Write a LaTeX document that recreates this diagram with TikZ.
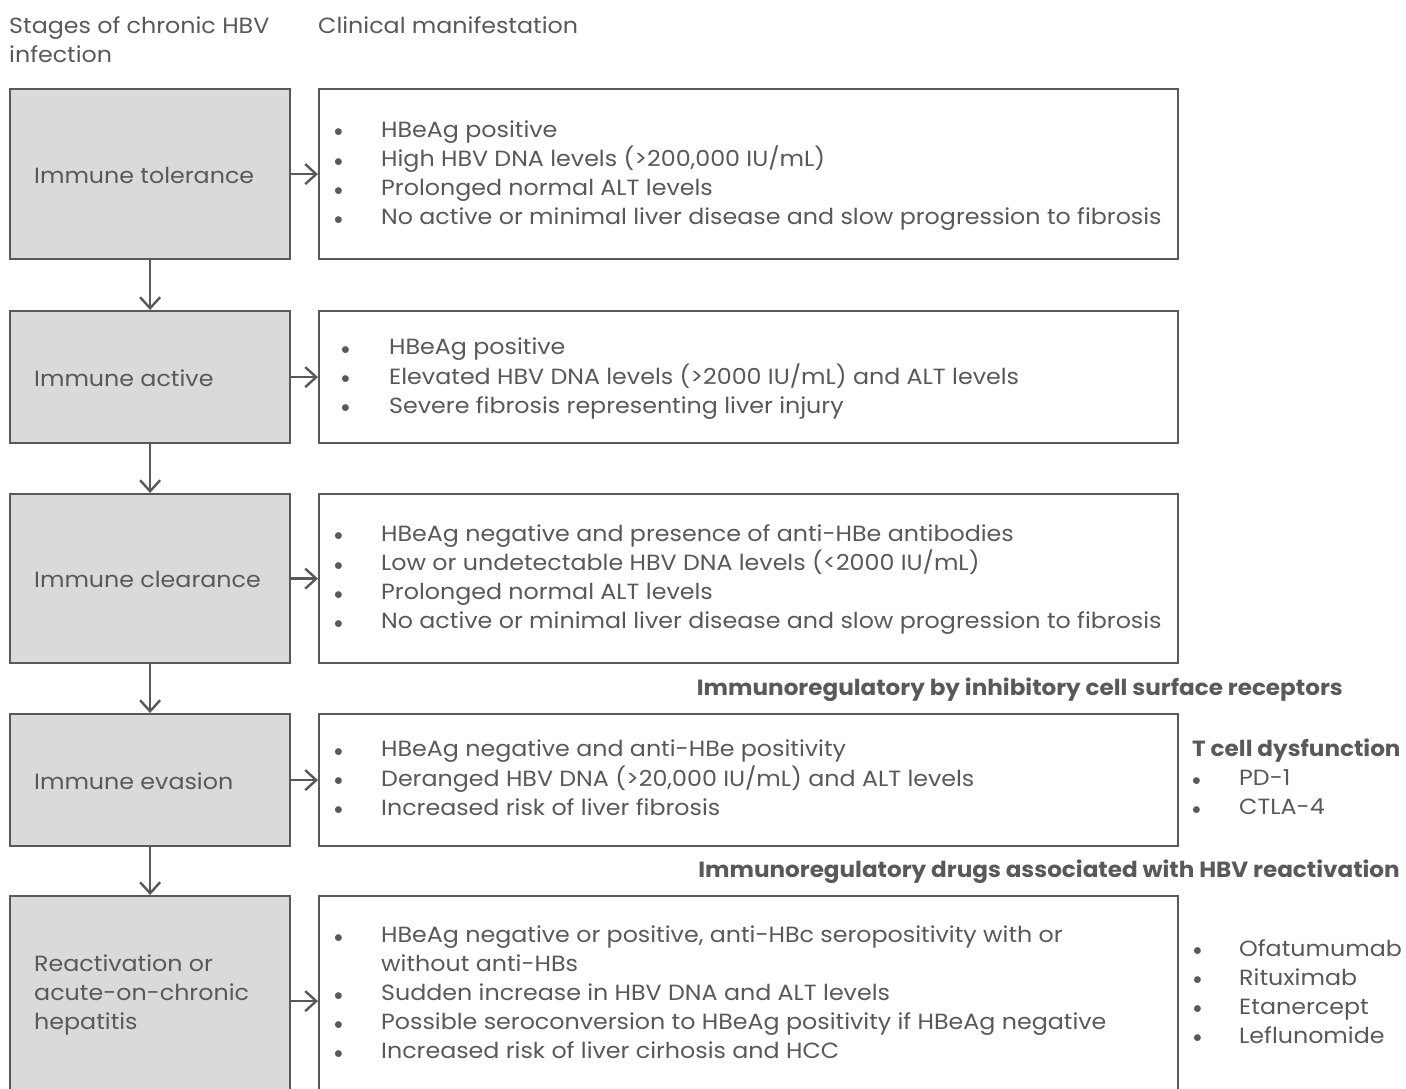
\documentclass[tikz,border=0pt]{standalone}
\usepackage{fontspec}
\setmainfont[FakeStretch=1.08,BoldFeatures={FakeStretch=1.05}]{Poppins}
\usetikzlibrary{arrows.meta}
\definecolor{txt}{HTML}{58595B}
\definecolor{boxfill}{HTML}{D9DADC}
\newcommand{\bul}{\raisebox{0.5pt}{\scalebox{0.85}{$\bullet$}}}
\newcommand{\blist}[2]{{\fontsize{22}{29}\selectfont\begin{tabular}{@{}p{#1}@{}l@{}}#2\end{tabular}}}
\begin{document}
\begin{tikzpicture}[x=1pt,y=-1pt,
  every node/.style={text=txt,font=\fontsize{22}{29}\selectfont,inner sep=0pt},
  stagebox/.style={draw=txt,line width=2.2pt,fill=boxfill},
  infobox/.style={draw=txt,line width=2.2pt,fill=white},
  arr/.style={draw=txt,line width=2.4pt,-{Straight Barb[length=11pt,width=20pt,line width=2.4pt]}},
  lbl/.style={anchor=west,align=left},
  hdr/.style={anchor=east,font=\fontsize{22}{29}\selectfont\bfseries}]
\useasboundingbox (0,0) rectangle (1406,1088);
% headers
\node[lbl] (h1) at (9,40) {Stages of chronic HBV\\infection};
\node[lbl] (h2) at (318,25) {Clinical manifestation};
% stage boxes
\node[stagebox,minimum width=280pt,minimum height=170pt,anchor=north west] (s1) at (9,88) {};
\node[stagebox,minimum width=280pt,minimum height=132pt,anchor=north west] (s2) at (9,310) {};
\node[stagebox,minimum width=280pt,minimum height=169pt,anchor=north west] (s3) at (9,493) {};
\node[stagebox,minimum width=280pt,minimum height=132pt,anchor=north west] (s4) at (9,713) {};
\node[stagebox,minimum width=280pt,minimum height=210pt,anchor=north west] (s5) at (9,895) {};
% info boxes
\node[infobox,minimum width=859pt,minimum height=170pt,anchor=north west] (c1) at (318,88) {};
\node[infobox,minimum width=859pt,minimum height=132pt,anchor=north west] (c2) at (318,310) {};
\node[infobox,minimum width=859pt,minimum height=169pt,anchor=north west] (c3) at (318,493) {};
\node[infobox,minimum width=859pt,minimum height=132pt,anchor=north west] (c4) at (318,713) {};
\node[infobox,minimum width=859pt,minimum height=210pt,anchor=north west] (c5) at (318,895) {};
% stage labels
\node[lbl] (l1) at (34,175) {Immune tolerance};
\node[lbl] (l2) at (34,378) {Immune active};
\node[lbl] (l3) at (34,579) {Immune clearance};
\node[lbl] (l4) at (34,781) {Immune evasion};
\node[lbl] (l5) at (34,995) {Reactivation or\\acute-on-chronic\\hepatitis};
% bullet texts
\node[lbl] (t1) at (334,175) {\blist{47pt}{%
\bul & HBeAg positive\\
\bul & High HBV DNA levels (>200,000 IU/mL)\\
\bul & Prolonged normal ALT levels\\
\bul & No active or minimal liver disease and slow progression to fibrosis}};
\node[lbl] (t2) at (341,378) {\blist{48pt}{%
\bul & HBeAg positive\\
\bul & Elevated HBV DNA levels (>2000 IU/mL) and ALT levels\\
\bul & Severe fibrosis representing liver injury}};
\node[lbl] (t3) at (334,579) {\blist{47pt}{%
\bul & HBeAg negative and presence of anti-HBe antibodies\\
\bul & Low or undetectable HBV DNA levels (<2000 IU/mL)\\
\bul & Prolonged normal ALT levels\\
\bul & No active or minimal liver disease and slow progression to fibrosis}};
\node[lbl] (t4) at (334,780) {\blist{47pt}{%
\bul & HBeAg negative and anti-HBe positivity\\
\bul & Deranged HBV DNA (>20,000 IU/mL) and ALT levels\\
\bul & Increased risk of liver fibrosis}};
\node[lbl] (t5) at (334,995) {\blist{47pt}{%
\bul & HBeAg negative or positive, anti-HBc seropositivity with or\\
 & without anti-HBs\\
\bul & Sudden increase in HBV DNA and ALT levels\\
\bul & Possible seroconversion to HBeAg positivity if HBeAg negative\\
\bul & Increased risk of liver cirhosis and HCC}};
% side headers
\node[hdr] (r1) at (1343,690) {Immunoregulatory by inhibitory cell surface receptors};
\node[hdr] (r2) at (1400,872) {Immunoregulatory drugs associated with HBV reactivation};
\node[lbl] (d1) at (1192,780) {\fontsize{22}{29}\selectfont\begin{tabular}{@{}p{47pt}@{}l@{}}
\multicolumn{2}{@{}l@{}}{\bfseries T cell dysfunction}\\
\bul & PD-1\\
\bul & CTLA-4\end{tabular}};
\node[lbl] (d2) at (1193,994) {\blist{46pt}{%
\bul & Ofatumumab\\
\bul & Rituximab\\
\bul & Etanercept\\
\bul & Leflunomide}};
% arrows
\draw[arr] (s1.east) -- (c1.west);
\draw[arr] (s2.east) -- (c2.west);
\draw[arr] (s3.east) -- (c3.west);
\draw[arr] (s4.east) -- (c4.west);
\draw[arr] (s5.east) -- (c5.west);
\draw[arr] (s1.south) -- (s2.north);
\draw[arr] (s2.south) -- (s3.north);
\draw[arr] (s3.south) -- (s4.north);
\draw[arr] (s4.south) -- (s5.north);
\end{tikzpicture}
\end{document}
